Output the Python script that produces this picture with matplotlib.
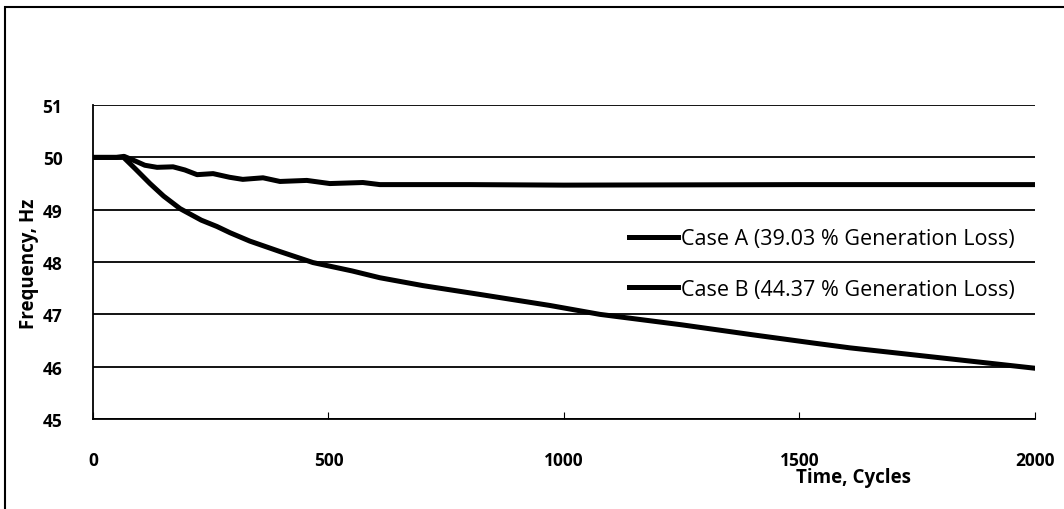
import matplotlib.pyplot as plt
from matplotlib.patches import Rectangle

plt.rcParams['font.family'] = ['Open Sans', 'DejaVu Sans']

# 读数 (cycles, Hz)
case_a_t = [0, 50, 66, 90, 110, 136, 170, 195, 221, 255, 290, 318, 361, 397, 454,
            503, 573, 609, 679, 800, 1000, 1500, 2000]
case_a_f = [50.0, 50.0, 50.02, 49.93, 49.85, 49.81, 49.82, 49.76, 49.67, 49.69, 49.62,
            49.58, 49.61, 49.54, 49.56, 49.50, 49.52, 49.48, 49.48, 49.48, 49.47, 49.48, 49.48]

case_b_t = [0, 50, 65, 90, 121, 150, 185, 230, 263, 291, 333, 397, 467, 550, 609, 700,
            822, 970, 1076, 1250, 1400, 1531, 1607, 1819, 2000]
case_b_f = [50.0, 50.0, 50.0, 49.78, 49.5, 49.26, 49.02, 48.8, 48.68, 48.56, 48.4, 48.2,
            47.99, 47.83, 47.7, 47.55, 47.38, 47.17, 47.0, 46.8, 46.61, 46.45, 46.36, 46.15, 45.97]

labels = ['Case A (39.03 % Generation Loss)', 'Case B (44.37 % Generation Loss)']
xticks = [0, 500, 1000, 1500, 2000]
yticks = [45, 46, 47, 48, 49, 50, 51]

fig = plt.figure(figsize=(10.64, 5.10), dpi=100)
ax = fig.add_axes([0.0874, 0.1765, 0.8853, 0.6155])

ax.plot(case_a_t, case_a_f, color='black', lw=3.6, label=labels[0])
ax.plot(case_b_t, case_b_f, color='black', lw=3.6, label=labels[1])

ax.set_xlim(0, 2000)
ax.set_ylim(45, 51)
ax.set_xticks(xticks)
ax.set_yticks(yticks)
ax.grid(axis='y', color='black', lw=1.3)
ax.set_axisbelow(True)
for s in ['top', 'right']:
    ax.spines[s].set_visible(False)
ax.spines['left'].set_linewidth(1.3)
ax.spines['bottom'].set_linewidth(1.3)
ax.tick_params(axis='x', direction='in', length=5, pad=23, labelsize=12.5)
ax.tick_params(axis='y', direction='in', length=0, pad=22, labelsize=12.5)
for lb in ax.get_xticklabels() + ax.get_yticklabels():
    lb.set_fontweight('bold')

ax.legend(loc='upper right', bbox_to_anchor=(0.979, 0.607), frameon=False,
          borderaxespad=0, borderpad=0,
          fontsize=15.5, handlelength=2.3, handletextpad=0.15, labelspacing=1.35)

fig.text(0.802, 0.063, 'Time, Cycles', fontsize=13.5, fontweight='bold', ha='center', va='center')
fig.text(0.027, 0.482, 'Frequency, Hz', fontsize=13.5, fontweight='bold', rotation=90,
         ha='center', va='center')

# 外框
fig.patches.append(Rectangle((0.005, -0.01), 1.2, 0.995, transform=fig.transFigure,
                             fill=False, edgecolor='black', lw=1.5))

fig.savefig('out.png', dpi=100)
